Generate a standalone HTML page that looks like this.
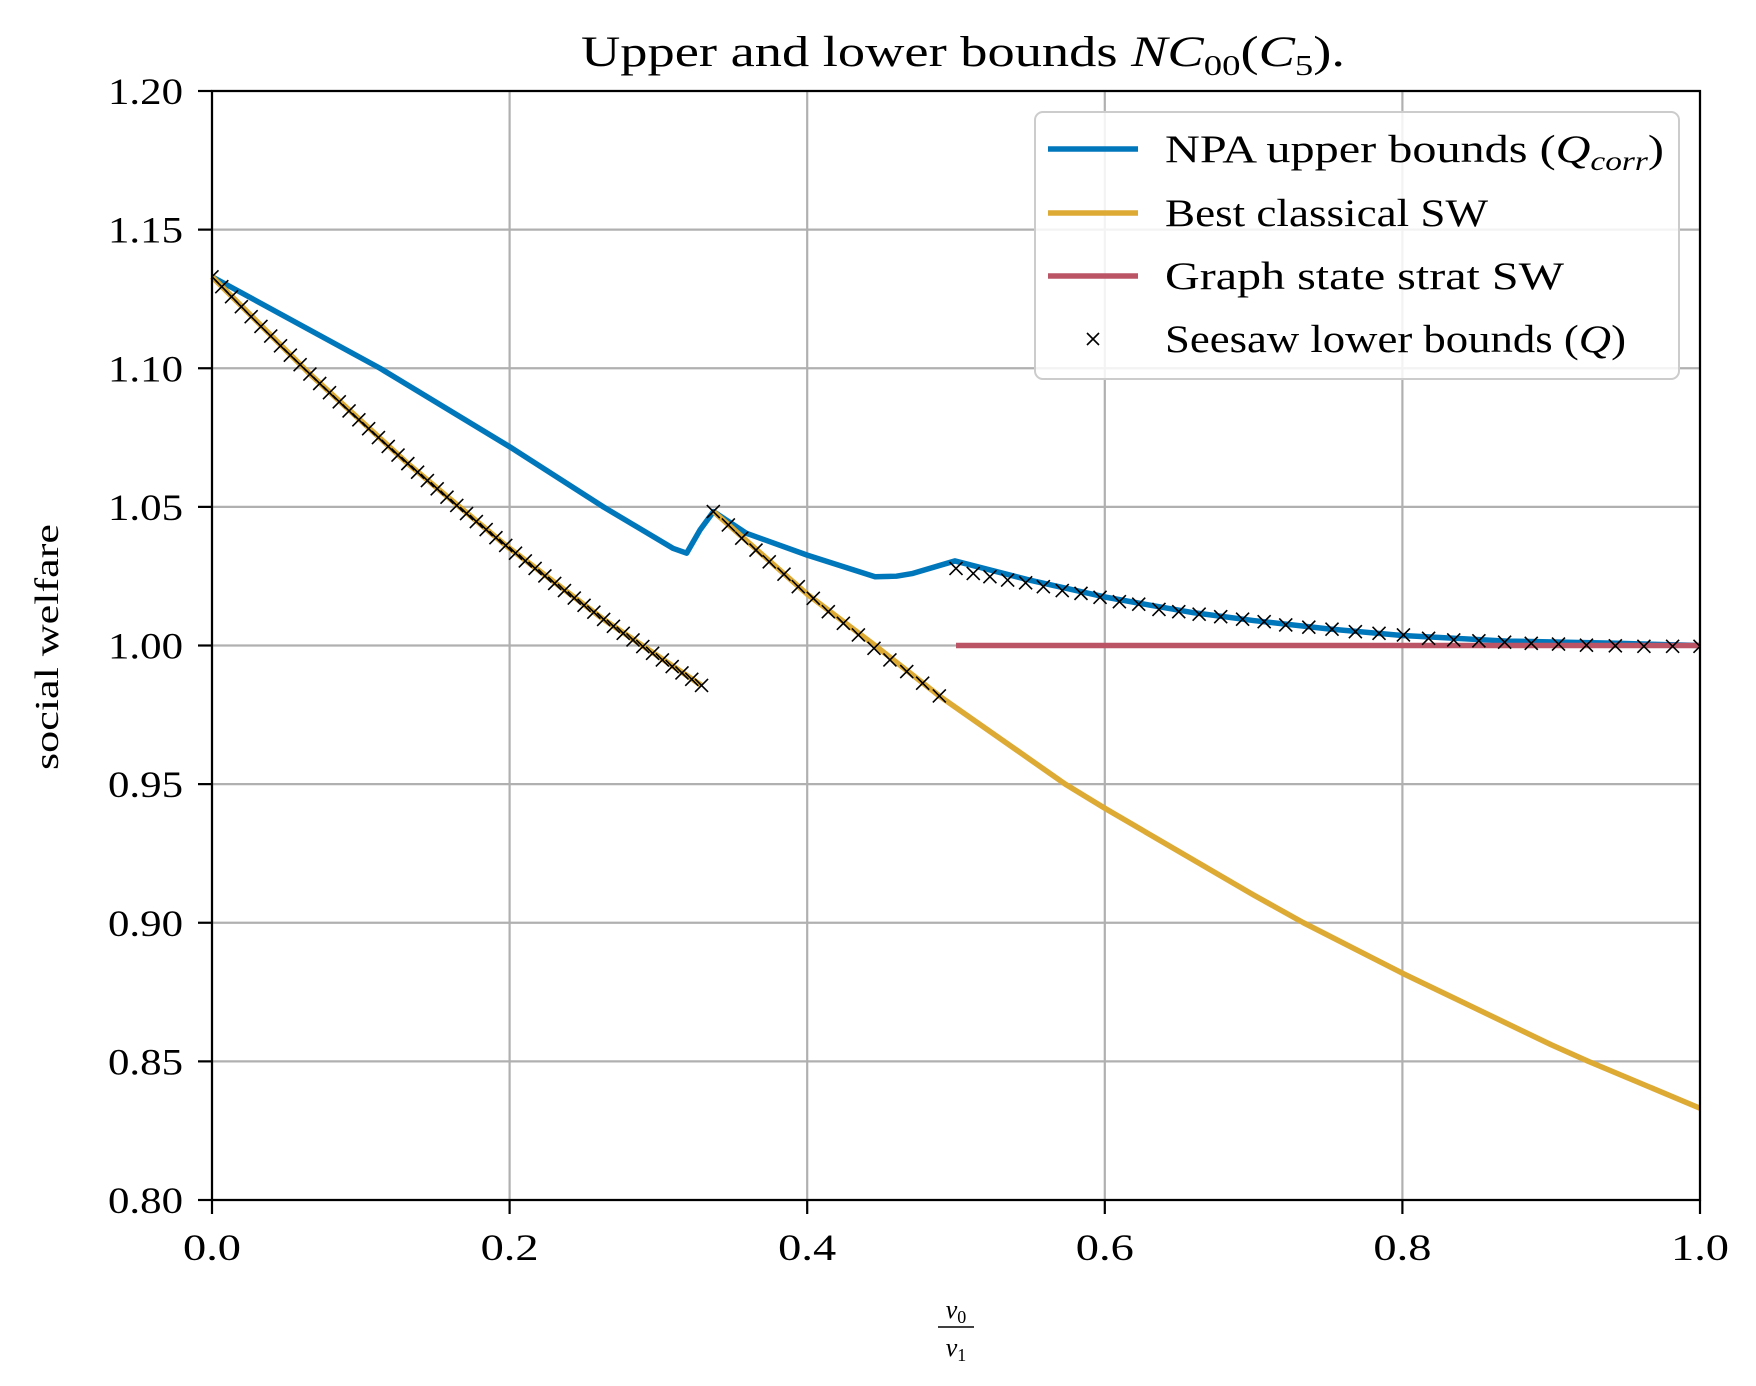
<!DOCTYPE html>
<html><head><meta charset="utf-8"><style>
html,body{margin:0;padding:0;background:#fff;}
svg{display:block;font-family:"Liberation Serif",serif;}
</style></head><body>
<svg id="chart" width="1756" height="1386" viewBox="0 0 1756 1386" xmlns="http://www.w3.org/2000/svg">
<rect width="1756" height="1386" fill="#fff"/>
<g id="grid"></g>
<g id="series"></g>
<g id="axes"></g>
<text x="581" y="66" font-size="43" textLength="764" lengthAdjust="spacingAndGlyphs">Upper and lower bounds <tspan font-style="italic">NC</tspan><tspan font-size="29" dy="9">00</tspan><tspan dy="-9">(</tspan><tspan font-style="italic">C</tspan><tspan font-size="29" dy="9">5</tspan><tspan dy="-9">).</tspan></text>
<text transform="translate(58,647) rotate(-90)" font-size="34" text-anchor="middle" textLength="246" lengthAdjust="spacingAndGlyphs">social welfare</text>
<g>
<text x="956" y="1318" font-size="26" text-anchor="middle" font-style="italic">v<tspan font-size="18" font-style="normal" dy="5">0</tspan></text>
<line x1="938" y1="1327" x2="974" y2="1327" stroke="#000" stroke-width="1.6"/>
<text x="956" y="1356" font-size="26" text-anchor="middle" font-style="italic">v<tspan font-size="18" font-style="normal" dy="5">1</tspan></text>
</g>
<g id="legend">
<rect x="1035" y="112" width="644" height="267" rx="8" fill="#fff" fill-opacity="0.85" stroke="#cccccc" stroke-width="2"/>
<g><line x1="1048" y1="149" x2="1138" y2="149" stroke="#0077BB" stroke-width="5.5"/><text x="1165" y="162" font-size="39" textLength="499" lengthAdjust="spacingAndGlyphs">NPA upper bounds (<tspan font-style="italic">Q</tspan><tspan font-size="27" font-style="italic" dy="8">corr</tspan><tspan dy="-8">)</tspan></text></g>
<g><line x1="1048" y1="213" x2="1138" y2="213" stroke="#DDAA33" stroke-width="5.5"/><text x="1165" y="226" font-size="39" textLength="323" lengthAdjust="spacingAndGlyphs">Best classical SW</text></g>
<g><line x1="1048" y1="276" x2="1138" y2="276" stroke="#BB5566" stroke-width="5.5"/><text x="1165" y="289" font-size="39" textLength="399" lengthAdjust="spacingAndGlyphs">Graph state strat SW</text></g>
<g><path d="M1087,333 l12,12 M1099,333 l-12,12" stroke="#000" stroke-width="1.6"/><text x="1165" y="352" font-size="39" textLength="461" lengthAdjust="spacingAndGlyphs">Seesaw lower bounds (<tspan font-style="italic">Q</tspan>)</text></g>
</g>
</svg>
<script>
const xTicks=[0,0.2,0.4,0.6,0.8,1.0];
const xTickLabels=["0.0","0.2","0.4","0.6","0.8","1.0"];
const yTicks=[0.80,0.85,0.90,0.95,1.00,1.05,1.10,1.15,1.20];
const yTickLabels=["0.80","0.85","0.90","0.95","1.00","1.05","1.10","1.15","1.20"];
const npaX=[0,0.1129,0.2,0.263,0.31,0.319,0.328,0.337,0.359,0.4,0.4456,0.46,0.471,0.4993,0.55,0.6,0.63,0.66,0.7,0.75,0.8,0.87,0.944,1.0];
const npaY=[1.133,1.1,1.0717,1.05,1.035,1.0333,1.0417,1.0483,1.0405,1.0326,1.0248,1.025,1.026,1.0305,1.0235,1.0175,1.0146,1.0118,1.009,1.006,1.0036,1.0016,1.0008,1.0];
const classicalX1=[0,0.0658,0.1316,0.1974,0.2632,0.329];
const classicalY1=[1.133,1.0979,1.0656,1.0361,1.0094,0.9856];
const classicalX2=[0.337,0.4,0.4456,0.4888,0.5734,0.6,0.7,0.7335,0.8,0.9,0.925,1.0];
const classicalY2=[1.0483,1.0185,1.0,0.9818,0.95,0.9413,0.910,0.9,0.8818,0.856,0.85,0.8331];
const graphX=[0.5,1.0];
const graphY=[1.0,1.0];
const seesawX=[0,0.00658,0.01316,0.01974,0.02632,0.0329,0.03948,0.04606,0.05264,0.05922,0.0658,0.07238,0.07896,0.08554,0.09212,0.0987,0.10528,0.11186,0.11844,0.12502,0.1316,0.13818,0.14476,0.15134,0.15792,0.1645,0.17108,0.17766,0.18424,0.19082,0.1974,0.20398,0.21056,0.21714,0.22372,0.2303,0.23688,0.24346,0.25004,0.25662,0.2632,0.26978,0.27636,0.28294,0.28952,0.2961,0.30268,0.30926,0.31584,0.32242,0.329,
0.3369,0.347,0.356,0.3656,0.3745,0.3844,0.394,0.4041,0.4142,0.4243,0.4344,0.4449,0.4556,0.4669,0.4776,0.4888,
0.5,0.5116,0.5228,0.5347,0.5468,0.5587,0.5714,0.584,0.5968,0.6098,0.6228,0.6364,0.6497,0.6634,0.6779,0.6926,0.7071,0.7216,0.7371,0.7527,0.7684,0.7843,0.8007,0.8176,0.8345,0.8514,0.8687,0.8866,0.9049,0.9237,0.9431,0.9623,0.9816,1.0];
const seesawY=[1.133,1.1294,1.1258,1.1222,1.1186,1.1151,1.1116,1.1081,1.1047,1.1013,1.0979,1.0945,1.0912,1.0879,1.0846,1.0814,1.0782,1.075,1.0718,1.0687,1.0656,1.0625,1.0595,1.0565,1.0535,1.0505,1.0476,1.0447,1.0418,1.0389,1.0361,1.0333,1.0305,1.0278,1.0251,1.0224,1.0198,1.0171,1.0145,1.012,1.0094,1.0069,1.0044,1.002,0.9996,0.9972,0.9948,0.9924,0.9901,0.9878,0.9856,
1.0483,1.0435,1.0387,1.0344,1.0302,1.0257,1.0212,1.017,1.0122,1.008,1.0038,0.999,0.9948,0.9906,0.9864,0.9818,
1.0278,1.026,1.0248,1.0236,1.0226,1.0212,1.0198,1.0188,1.0174,1.0158,1.0149,1.013,1.0122,1.0113,1.0104,1.0095,1.0086,1.0074,1.0066,1.0059,1.005,1.0044,1.0038,1.0026,1.002,1.0017,1.0012,1.0008,1.0005,1.0001,0.9999,0.9997,0.9997,0.9997];

const L=212,R=1700,T=91,B=1200;
const sx=v=>L+(v-0)/(1-0)*(R-L);
const sy=v=>B-(v-0.8)/(1.2-0.8)*(B-T);
const NS="http://www.w3.org/2000/svg";
function mk(tag,parent){const e=document.createElementNS(NS,tag);parent.appendChild(e);return e;}
const grid=document.getElementById('grid'),series=document.getElementById('series'),axes=document.getElementById('axes');

xTicks.forEach((t,i)=>{
  const g=mk('line',grid);
  
  
  g.setAttribute('x1',sx(t));g.setAttribute('x2',sx(t));g.setAttribute('y1',T);g.setAttribute('y2',B);
  g.setAttribute('stroke','#b0b0b0');g.setAttribute('stroke-width','2.2');
  const tk=mk('line',axes);
  
  
  tk.setAttribute('x1',sx(t));tk.setAttribute('x2',sx(t));tk.setAttribute('y1',B);tk.setAttribute('y2',B+14);
  tk.setAttribute('stroke','#000');tk.setAttribute('stroke-width','2.2');
  const tx=mk('text',axes);
  
  
  tx.setAttribute('x',sx(t)-29);tx.setAttribute('y',B+60);tx.setAttribute('font-size','37');
  tx.setAttribute('textLength','58');tx.setAttribute('lengthAdjust','spacingAndGlyphs');
  tx.textContent=xTickLabels[i];
});
yTicks.forEach((t,i)=>{
  const g=mk('line',grid);
  
  
  g.setAttribute('x1',L);g.setAttribute('x2',R);g.setAttribute('y1',sy(t));g.setAttribute('y2',sy(t));
  g.setAttribute('stroke','#b0b0b0');g.setAttribute('stroke-width','2.2');
  const tk=mk('line',axes);
  
  
  tk.setAttribute('x1',L-14);tk.setAttribute('x2',L);tk.setAttribute('y1',sy(t));tk.setAttribute('y2',sy(t));
  tk.setAttribute('stroke','#000');tk.setAttribute('stroke-width','2.2');
  const tx=mk('text',axes);
  
  
  tx.setAttribute('x',L-104);tx.setAttribute('y',sy(t)+13);tx.setAttribute('font-size','37');
  tx.setAttribute('textLength','75');tx.setAttribute('lengthAdjust','spacingAndGlyphs');
  tx.textContent=yTickLabels[i];
});
const frame=mk('rect',axes);


frame.setAttribute('x',L);frame.setAttribute('y',T);frame.setAttribute('width',R-L);frame.setAttribute('height',B-T);
frame.setAttribute('fill','none');frame.setAttribute('stroke','#000');frame.setAttribute('stroke-width','2.2');

function line(xs,ys,color,name){
  const p=mk('polyline',series);
  
  
  p.setAttribute('points',xs.map((x,i)=>sx(x)+','+sy(ys[i])).join(' '));
  p.setAttribute('fill','none');p.setAttribute('stroke',color);p.setAttribute('stroke-width','5.5');
  p.setAttribute('stroke-linejoin','round');
}
line(npaX,npaY,'#0077BB','npa-upper-bound-line');
line(classicalX1,classicalY1,'#DDAA33','classical-sw-line-1');
line(classicalX2,classicalY2,'#DDAA33','classical-sw-line-2');
line(graphX,graphY,'#BB5566','graph-state-sw-line');
const cp=document.createElementNS(NS,'clipPath');cp.setAttribute('id','pc');
const cr=mk('rect',cp);cr.setAttribute('x',L);cr.setAttribute('y',T);cr.setAttribute('width',R-L);cr.setAttribute('height',B-T);
document.getElementById('chart').appendChild(cp);
const mg=mk('g',series);


mg.setAttribute('clip-path','url(#pc)');
seesawX.forEach((x,i)=>{
  const m=mk('path',mg);
  
  
  const cx=sx(x),cy=sy(seesawY[i]),h=6.5;
  m.setAttribute('d',`M${cx-h},${cy-h}L${cx+h},${cy+h}M${cx+h},${cy-h}L${cx-h},${cy+h}`);
  m.setAttribute('stroke','#000');m.setAttribute('stroke-width','1.6');
});
</script>
</body></html>
